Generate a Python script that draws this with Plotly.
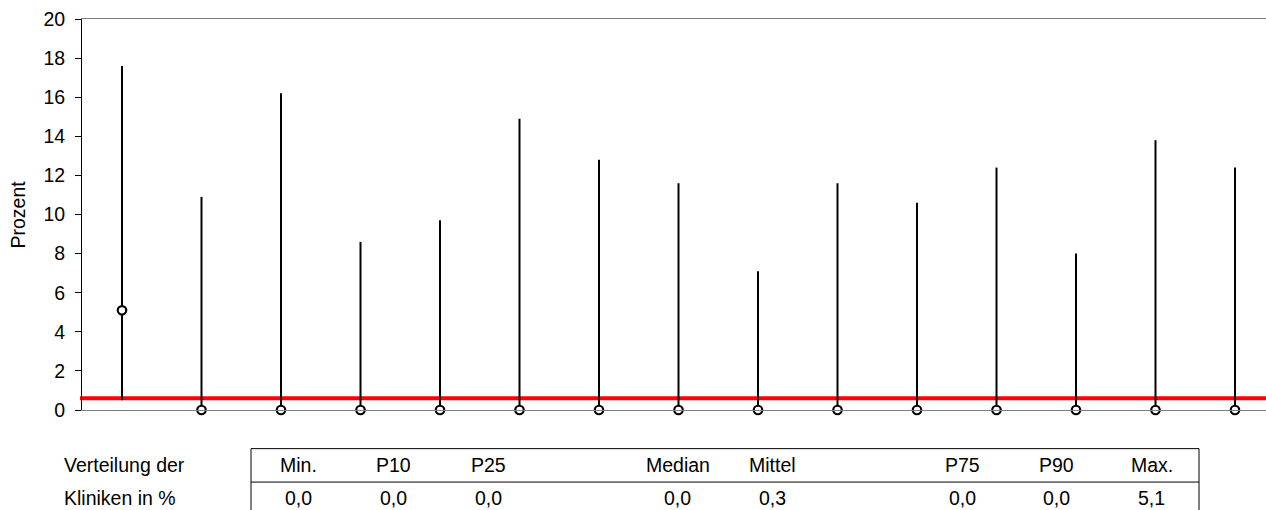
import plotly.graph_objects as go

# ---- data ----
categories = list(range(15))
upper = [17.6, 10.9, 16.2, 8.6, 9.7, 14.9, 12.8, 11.6, 7.1, 11.6, 10.6, 12.4, 8.0, 13.8, 12.4]
lower = [0.5, 0.0, 0.0, 0.0, 0.0, 0.0, 0.0, 0.0, 0.0, 0.0, 0.0, 0.0, 0.0, 0.0, 0.0]
point = [5.1, 0.0, 0.0, 0.0, 0.0, 0.0, 0.0, 0.0, 0.0, 0.0, 0.0, 0.0, 0.0, 0.0, 0.0]
reference_value = 0.6
y_ticks = [0, 2, 4, 6, 8, 10, 12, 14, 16, 18, 20]

table_row_labels = ["Verteilung der", "Kliniken in %"]
table_headers = ["Min.", "P10", "P25", "", "Median", "Mittel", "", "P75", "P90", "Max."]
table_values = ["0,0", "0,0", "0,0", "", "0,0", "0,3", "", "0,0", "0,0", "5,1"]

# ---- layout geometry (pixels) ----
W, H = 1266, 510
L, R, T = 82, 0, 19
Y0_PX = 409.7
B = H - Y0_PX
PW = W - L - R
PH = Y0_PX - T


def px_x(px):
    return (px - L) / PW


def px_y(py):
    return (Y0_PX - py) / PH


FONT = "Liberation Sans, Arial, sans-serif"
FS = 19.5

fig = go.Figure()

# reference line (red)
fig.add_shape(type="line", xref="paper", yref="y", x0=px_x(80), x1=1.0,
              y0=reference_value, y1=reference_value,
              line=dict(color="#ff0000", width=4), layer="below")

err_plus = [u - p for u, p in zip(upper, point)]
err_minus = [p - l for p, l in zip(point, lower)]

fig.add_trace(go.Scatter(
    x=categories, y=point, mode="markers",
    marker=dict(symbol="circle", size=8.5, color="white",
                line=dict(color="black", width=2.2)),
    error_y=dict(type="data", symmetric=False, array=err_plus,
                 arrayminus=err_minus, width=0, thickness=2, color="black"),
    cliponaxis=False, showlegend=False, hoverinfo="skip",
))

# ---- table ----
tbl_left, tbl_right, col_w = 251, 1199, 94.8
line_style = dict(color="black", width=1)
fig.add_shape(type="line", xref="paper", yref="paper", x0=px_x(tbl_left), x1=px_x(tbl_right),
              y0=px_y(448.3), y1=px_y(448.3), line=line_style)
fig.add_shape(type="line", xref="paper", yref="paper", x0=px_x(tbl_left), x1=px_x(tbl_right),
              y0=px_y(481.7), y1=px_y(481.7), line=line_style)
for xv in (tbl_left, tbl_right):
    fig.add_shape(type="line", xref="paper", yref="paper", x0=px_x(xv), x1=px_x(xv),
                  y0=px_y(448.3), y1=px_y(516), line=line_style)

row_y = [465, 498]
for lab, ry in zip(table_row_labels, row_y):
    fig.add_annotation(text=lab, xref="paper", yref="paper", x=px_x(62), y=px_y(ry),
                       xanchor="left", yanchor="middle", showarrow=False,
                       font=dict(family=FONT, size=FS, color="black"))
for i, (hd, vl) in enumerate(zip(table_headers, table_values)):
    cx = px_x(tbl_left + col_w * (i + 0.5))
    for txt, ry in ((hd, row_y[0]), (vl, row_y[1])):
        if txt:
            fig.add_annotation(text=txt, xref="paper", yref="paper", x=cx, y=px_y(ry),
                               xanchor="center", yanchor="middle", showarrow=False,
                               font=dict(family=FONT, size=FS, color="black"))

# y-axis title
fig.add_annotation(text="Prozent", xref="paper", yref="paper", x=px_x(17), y=0.5,
                   xanchor="center", yanchor="middle", textangle=-90, showarrow=False,
                   font=dict(family=FONT, size=FS, color="black"))

first_x, spacing = 122, 79.5
fig.update_xaxes(range=[(L - first_x) / spacing, (W - R - first_x) / spacing],
                 showgrid=False, zeroline=False, showticklabels=False, ticks="",
                 showline=True, linecolor="#7f7f7f", linewidth=1, mirror=True)
fig.update_yaxes(range=[0, 20], tickvals=y_ticks, ticktext=[str(v) for v in y_ticks],
                 showgrid=False, zeroline=False, ticks="outside", ticklen=6,
                 tickcolor="black", tickwidth=1, ticklabelstandoff=6,
                 showline=True, linecolor="black", linewidth=1,
                 tickfont=dict(family=FONT, size=FS, color="black"))

fig.update_layout(width=W, height=H, margin=dict(l=L, r=R, t=T, b=B),
                  paper_bgcolor="white", plot_bgcolor="white",
                  font=dict(family=FONT, size=FS, color="black"))

fig.write_html("out.html", config={"displayModeBar": False},
               post_script="document.body.style.margin='0';document.body.style.overflow='hidden';")
